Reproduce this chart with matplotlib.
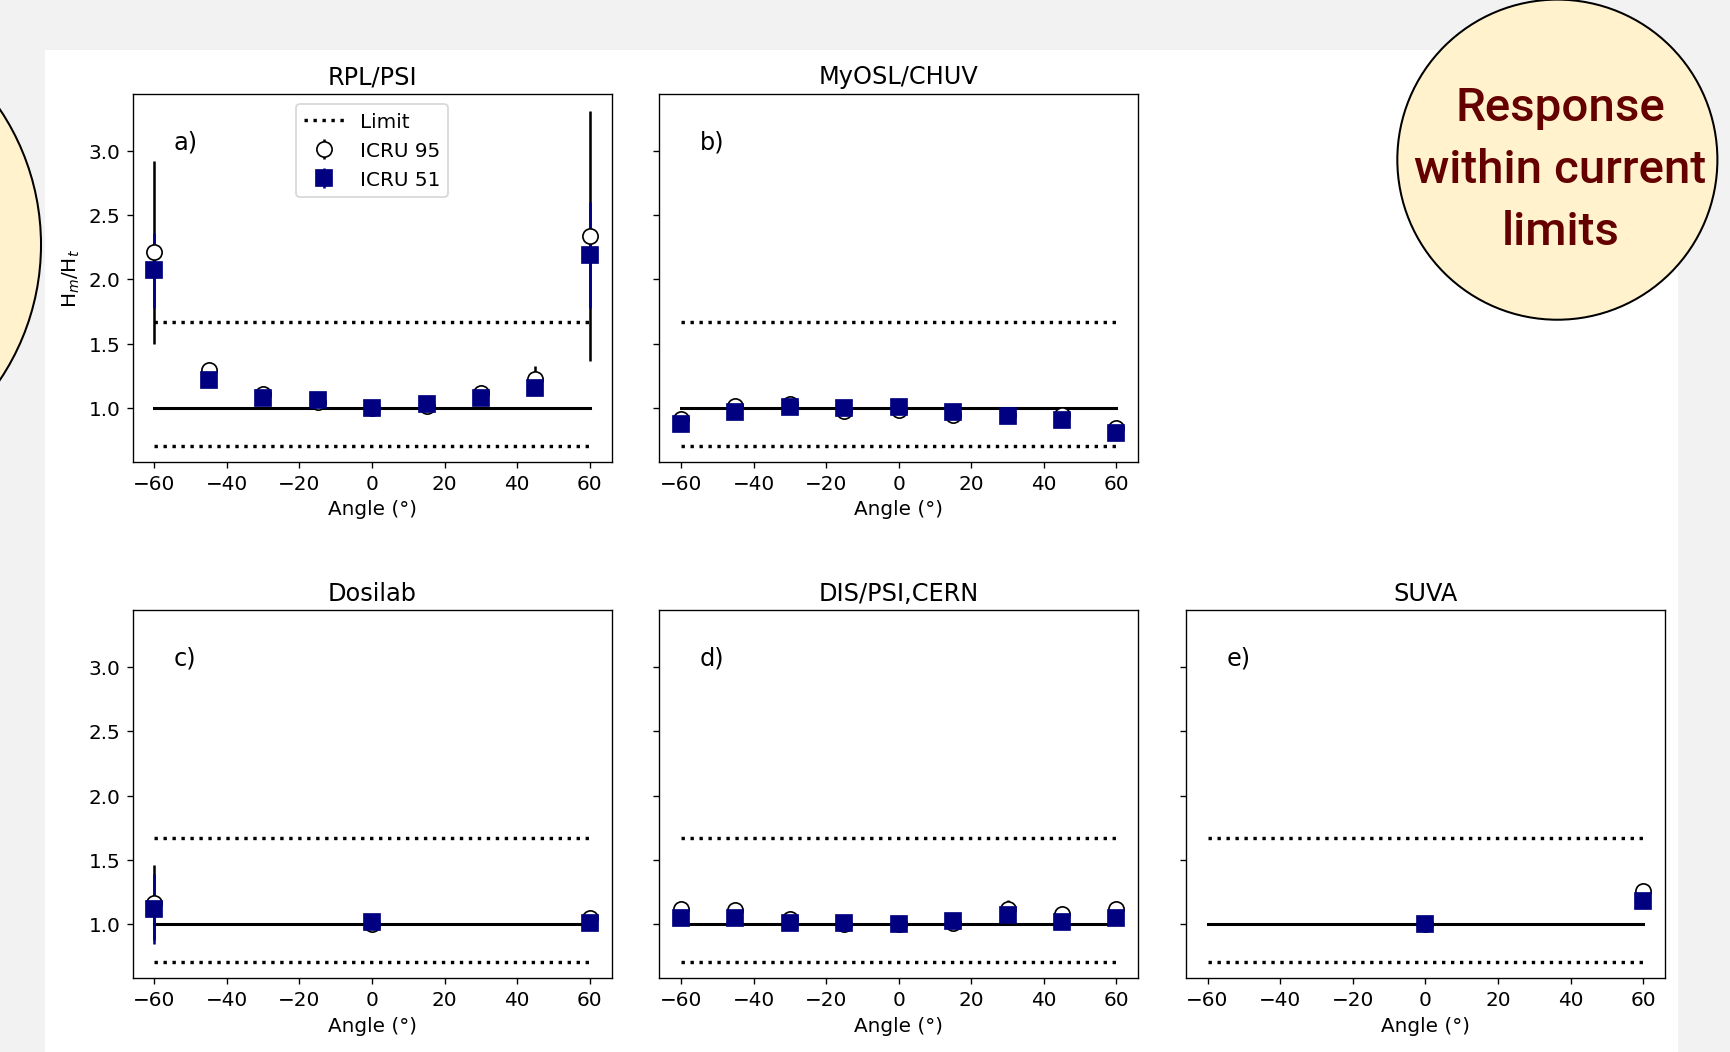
import matplotlib
matplotlib.use("Agg")
import matplotlib.pyplot as plt
from matplotlib.patches import Circle, Rectangle

# ---------------- data ----------------
angles = [-60, -45, -30, -15, 0, 15, 30, 45, 60]
angles_c = [-60, 0, 60]
angles_e = [0, 60]

titles = ["RPL/PSI", "MyOSL/CHUV", "Dosilab", "DIS/PSI,CERN", "SUVA"]
panel_labels = ["a)", "b)", "c)", "d)", "e)"]

rpl_icru95 = [2.21, 1.30, 1.11, 1.05, 1.00, 1.02, 1.12, 1.23, 2.34]
rpl_icru95_err = [0.71, 0.04, 0.03, 0.02, 0.02, 0.02, 0.03, 0.10, 0.97]
rpl_icru51 = [2.07, 1.22, 1.08, 1.06, 1.00, 1.03, 1.08, 1.16, 2.19]
rpl_icru51_err = [0.29, 0.03, 0.03, 0.02, 0.02, 0.02, 0.03, 0.05, 0.41]

myosl_icru95 = [0.92, 1.02, 1.03, 0.98, 0.99, 0.95, 0.95, 0.95, 0.85]
myosl_icru95_err = [0.02, 0.02, 0.02, 0.02, 0.02, 0.02, 0.02, 0.02, 0.02]
myosl_icru51 = [0.88, 0.97, 1.01, 1.00, 1.01, 0.97, 0.94, 0.91, 0.81]
myosl_icru51_err = [0.02, 0.02, 0.02, 0.02, 0.02, 0.02, 0.02, 0.02, 0.02]

dosilab_icru95 = [1.17, 1.00, 1.05]
dosilab_icru95_err = [0.29, 0.02, 0.02]
dosilab_icru51 = [1.12, 1.02, 1.01]
dosilab_icru51_err = [0.27, 0.02, 0.02]

dis_icru95 = [1.12, 1.11, 1.04, 1.00, 1.00, 1.01, 1.12, 1.08, 1.12]
dis_icru95_err = [0.02, 0.02, 0.02, 0.02, 0.02, 0.02, 0.07, 0.02, 0.02]
dis_icru51 = [1.05, 1.05, 1.01, 1.01, 1.00, 1.03, 1.07, 1.02, 1.05]
dis_icru51_err = [0.02, 0.02, 0.02, 0.02, 0.02, 0.02, 0.02, 0.02, 0.02]

suva_icru95 = [1.00, 1.26]
suva_icru95_err = [0.02, 0.02]
suva_icru51 = [1.00, 1.18]
suva_icru51_err = [0.02, 0.02]

limit_low = 0.71
limit_high = 1.67
reference = 1.0
angle_range = [-60, 60]

callout_text = "Response\nwithin current\nlimits"

panels = [
    (angles, rpl_icru95, rpl_icru95_err, rpl_icru51, rpl_icru51_err),
    (angles, myosl_icru95, myosl_icru95_err, myosl_icru51, myosl_icru51_err),
    (angles_c, dosilab_icru95, dosilab_icru95_err, dosilab_icru51, dosilab_icru51_err),
    (angles, dis_icru95, dis_icru95_err, dis_icru51, dis_icru51_err),
    (angles_e, suva_icru95, suva_icru95_err, suva_icru51, suva_icru51_err),
]

# ---------------- layout ----------------
plt.rcParams["font.size"] = 11.8
W, H = 1730, 1052
DPI = 122
fig = plt.figure(figsize=(1730.4 / DPI, 1052.4 / DPI), dpi=DPI)
fig.patch.set_facecolor("#f2f2f2")

bg = fig.add_axes([0, 0, 1, 1], zorder=-10)
bg.set_xlim(0, W); bg.set_ylim(H, 0); bg.axis("off")
bg.add_patch(Rectangle((45, 50), 1633, 1010, facecolor="white", edgecolor="none"))

col_left = [132.5, 659, 1185.5]
row_top = [94.5, 610.5]
aw, ah = 479, 368
positions = [(0, 0), (0, 1), (1, 0), (1, 1), (1, 2)]

axes = []
for i, (r, c) in enumerate(positions):
    x0 = col_left[c]
    y0 = row_top[r]
    rect = [x0 / W, 1 - (y0 + ah) / H, aw / W, ah / H]
    if i == 0:
        ax = fig.add_axes(rect)
    else:
        ax = fig.add_axes(rect, sharey=axes[0])
    axes.append(ax)

for i, ax in enumerate(axes):
    x, y95, e95, y51, e51 = panels[i]
    ax.plot(angle_range, [limit_high, limit_high], ":", color="black", lw=2, label="Limit")
    ax.plot(angle_range, [limit_low, limit_low], ":", color="black", lw=2)
    ax.plot(angle_range, [reference, reference], "-", color="black", lw=1.8)
    ax.errorbar(x, y95, yerr=e95, fmt="o", color="black", mfc="white", mec="black",
                ms=9, elinewidth=1.5, label="ICRU 95")
    ax.errorbar(x, y51, yerr=e51, fmt="s", color="navy", mfc="navy", mec="navy",
                ms=10, elinewidth=1.5, label="ICRU 51")
    ax.set_title(titles[i], fontsize=14.2)
    ax.set_xlabel("Angle (°)")
    ax.text(0.085, 0.87, panel_labels[i], transform=ax.transAxes, fontsize=14.2,
            ha="left", va="center")
    if i in (1, 3, 4):
        ax.tick_params(labelleft=False)

axes[0].set_ylabel("H$_m$/H$_t$")
axes[0].legend(loc="upper center")

# ---------------- callout shapes ----------------
ov = fig.add_axes([0, 0, 1, 1], zorder=10)
ov.set_xlim(0, W); ov.set_ylim(H, 0); ov.axis("off")
ov.add_patch(Circle((-202, 245), 243, facecolor="#fff2cc", edgecolor="black", lw=1.2, clip_on=False))
ov.add_patch(Circle((1557, 160), 160, facecolor="#fff2cc", edgecolor="black", lw=1.2, clip_on=False))
ov.text(1560, 170, callout_text, ha="center", va="center", color="#650000",
        fontsize=28, family="Roboto", fontweight="medium", linespacing=1.52)

fig.savefig("out.png", dpi=DPI, facecolor=fig.get_facecolor())
